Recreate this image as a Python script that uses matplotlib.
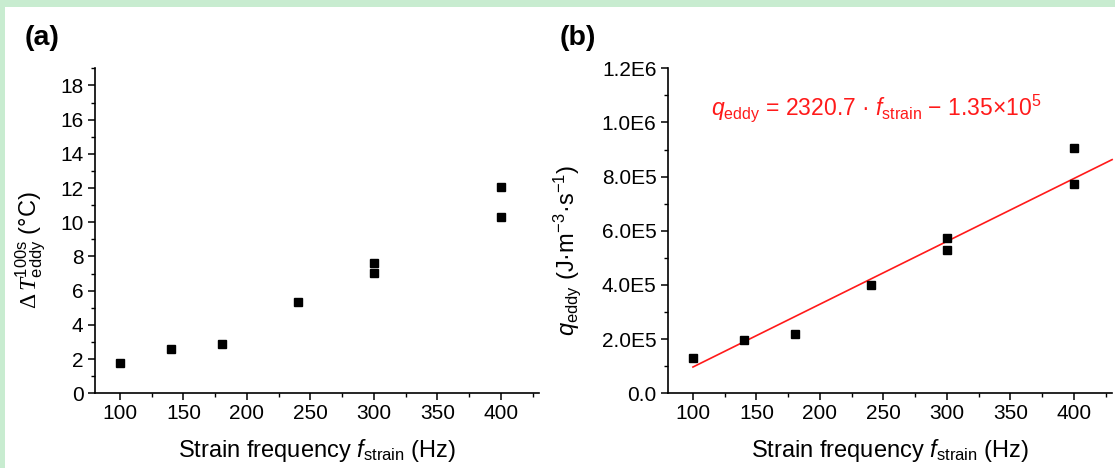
import matplotlib
matplotlib.use("Agg")
import matplotlib.pyplot as plt
from matplotlib.patches import Rectangle
from matplotlib.ticker import MultipleLocator, FixedLocator
import numpy as np

# ---------------- data ----------------
freq_a = [100, 140, 180, 240, 300, 300, 400, 400]
dT_eddy = [1.75, 2.6, 2.9, 5.35, 7.6, 7.05, 12.05, 10.3]

freq_b = [100, 140, 180, 240, 300, 300, 400, 400]
q_eddy = [1.32e5, 1.96e5, 2.19e5, 4.01e5, 5.72e5, 5.30e5, 9.07e5, 7.72e5]

fit_slope = 2320.7
fit_intercept = -1.35e5
fit_range = [100, 430]

x_ticks = [100, 150, 200, 250, 300, 350, 400]
y_ticks_a = [0, 2, 4, 6, 8, 10, 12, 14, 16, 18]
y_ticks_b = [0, 2e5, 4e5, 6e5, 8e5, 1.0e6, 1.2e6]
y_ticklabels_b = ["0.0", "2.0E5", "4.0E5", "6.0E5", "8.0E5", "1.0E6", "1.2E6"]

# ---------------- style ----------------
plt.rcParams['font.family'] = ['Liberation Sans', 'DejaVu Sans']
plt.rcParams['mathtext.fontset'] = 'custom'
plt.rcParams['mathtext.rm'] = 'Liberation Sans'
plt.rcParams['mathtext.it'] = 'Liberation Sans:italic'
plt.rcParams['mathtext.bf'] = 'Liberation Sans:bold'
plt.rcParams['mathtext.sf'] = 'Liberation Serif:italic'
plt.rcParams['mathtext.tt'] = 'Liberation Serif'

fig = plt.figure(figsize=(11.15, 4.68), dpi=100)

# light green frame at top and left
fig.patches.append(Rectangle((0, 1 - 7 / 468), 1, 7 / 468, transform=fig.transFigure,
                             facecolor='#c8ecd0', edgecolor='none', zorder=0))
fig.patches.append(Rectangle((0, 0), 5 / 1115, 1, transform=fig.transFigure,
                             facecolor='#c8ecd0', edgecolor='none', zorder=0))

ax_a = fig.add_axes([0.0848, 0.1596, 0.3986, 0.6944])
ax_b = fig.add_axes([0.5987, 0.1596, 0.3987, 0.6944])

TICK_FS = 15
LABEL_FS = 17

for ax in (ax_a, ax_b):
    ax.spines['top'].set_visible(False)
    ax.spines['right'].set_visible(False)
    for s in ('left', 'bottom'):
        ax.spines[s].set_linewidth(1.2)
    ax.set_xlim(80, 430)
    ax.xaxis.set_major_locator(FixedLocator(x_ticks))
    ax.xaxis.set_minor_locator(MultipleLocator(25))
    ax.tick_params(which='major', direction='out', length=5, width=1.1,
                   labelsize=TICK_FS, pad=3)
    ax.tick_params(which='minor', direction='out', length=3, width=1.0)
    ax.set_xlabel(r'Strain frequency $f_{\mathrm{strain}}$ (Hz)', fontsize=LABEL_FS,
                  labelpad=10)

# ---- panel (a) ----
ax_a.plot(freq_a, dT_eddy, 's', color='black', ms=5.8, zorder=3)
ax_a.set_ylim(0, 19)
ax_a.yaxis.set_major_locator(FixedLocator(y_ticks_a))
ax_a.yaxis.set_minor_locator(MultipleLocator(1))
ax_a.set_ylabel(r'$\mathtt{\Delta}\,\mathsf{T}^{\mathrm{100s}}_{\mathrm{eddy}}$ (°C)',
                fontsize=LABEL_FS)
ax_a.yaxis.set_label_coords(-0.105, 0.44)

# ---- panel (b) ----
ax_b.plot(freq_b, q_eddy, 's', color='black', ms=5.8, zorder=3)
fx = np.array(fit_range, dtype=float)
ax_b.plot(fx, fit_slope * fx + fit_intercept, '-', color='#ff1a1a', lw=1.2, zorder=2,
          clip_on=False)
ax_b.set_ylim(0, 1.2e6)
ax_b.yaxis.set_major_locator(FixedLocator(y_ticks_b))
ax_b.set_yticklabels(y_ticklabels_b)
ax_b.yaxis.set_minor_locator(MultipleLocator(1e5))
ax_b.set_ylabel(r'$q_{\mathrm{eddy}}$ (J·m$^{\mathrm{-3}}$·s$^{\mathrm{-1}}$)',
                fontsize=LABEL_FS)
ax_b.yaxis.set_label_coords(-0.19, 0.44)
ax_b.text(114, 1.053e6,
          r'$q_{\mathrm{eddy}}$ = 2320.7 · $f_{\mathrm{strain}}$ − 1.35×10$^{\mathrm{5}}$',
          color='#ff1a1a', fontsize=16.5, va='center', ha='left')

# panel labels
fig.text(25 / 1115, 1 - 38 / 468, '(a)', fontsize=20.5, fontweight='bold',
         ha='left', va='center')
fig.text(560 / 1115, 1 - 38 / 468, '(b)', fontsize=20.5, fontweight='bold',
         ha='left', va='center')

fig.savefig('out.png', dpi=100, facecolor='white')
